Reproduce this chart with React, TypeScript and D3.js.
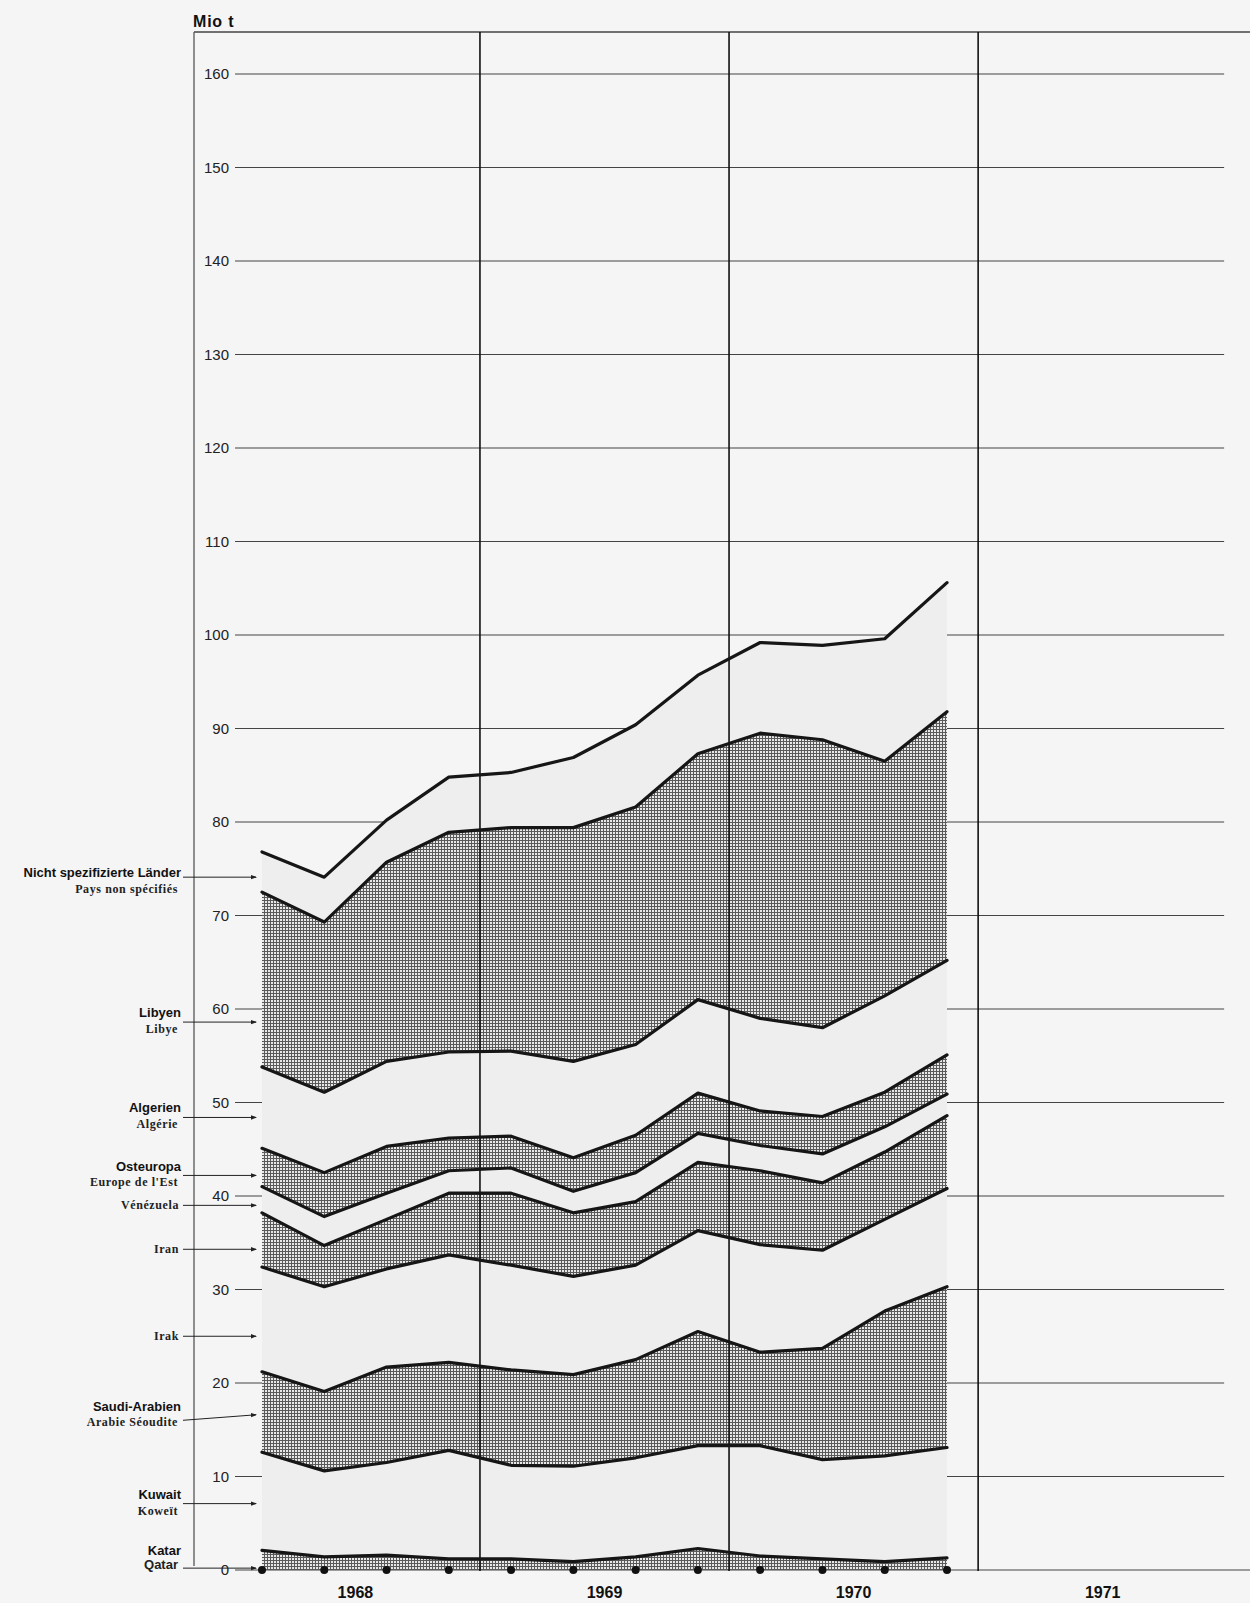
import React from 'react';
import * as d3 from 'd3';

// ---------- data (Mio t, quarterly 1968–1970) ----------
const quarters = [
  '1968-I', '1968-II', '1968-III', '1968-IV',
  '1969-I', '1969-II', '1969-III', '1969-IV',
  '1970-I', '1970-II', '1970-III', '1970-IV',
];
const years = ['1968', '1969', '1970', '1971'];
const yTicks = [0, 10, 20, 30, 40, 50, 60, 70, 80, 90, 100, 110, 120, 130, 140, 150, 160];

const katar = [2.1, 1.4, 1.6, 1.2, 1.2, 0.9, 1.4, 2.3, 1.5, 1.2, 0.9, 1.3];
const kuwait = [10.5, 9.2, 9.9, 11.6, 10.0, 10.2, 10.6, 11.0, 11.8, 10.6, 11.3, 11.8];
const saudiArabien = [8.6, 8.5, 10.2, 9.4, 10.2, 9.8, 10.5, 12.2, 10.0, 11.9, 15.5, 17.2];
const irak = [11.2, 11.2, 10.5, 11.5, 11.2, 10.5, 10.1, 10.8, 11.5, 10.5, 9.8, 10.5];
const iran = [5.8, 4.4, 5.3, 6.6, 7.7, 6.8, 6.8, 7.3, 7.9, 7.2, 7.2, 7.8];
const venezuela = [2.8, 3.1, 2.8, 2.4, 2.7, 2.3, 3.1, 3.1, 2.7, 3.1, 2.7, 2.3];
const osteuropa = [4.1, 4.7, 5.0, 3.5, 3.4, 3.6, 4.0, 4.3, 3.7, 4.0, 3.7, 4.2];
const algerien = [8.7, 8.6, 9.1, 9.2, 9.1, 10.3, 9.7, 10.0, 9.9, 9.5, 10.3, 10.1];
const libyen = [18.7, 18.2, 21.3, 23.5, 23.9, 25.0, 25.4, 26.3, 30.5, 30.8, 25.1, 26.6];
const nichtSpezifiziert = [4.3, 4.8, 4.5, 5.9, 5.9, 7.5, 8.8, 8.4, 9.7, 10.1, 13.1, 13.8];

const seriesKeys = [
  'Katar', 'Kuwait', 'Saudi-Arabien', 'Irak', 'Iran',
  'Venezuela', 'Osteuropa', 'Algerien', 'Libyen', 'Nicht spezifizierte Länder',
];
const seriesValues = [
  katar, kuwait, saudiArabien, irak, iran,
  venezuela, osteuropa, algerien, libyen, nichtSpezifiziert,
];
const labelDe = [
  'Katar', 'Kuwait', 'Saudi-Arabien', '', '',
  '', 'Osteuropa', 'Algerien', 'Libyen', 'Nicht spezifizierte Länder',
];
const labelFr = [
  'Qatar', 'Koweït', 'Arabie Séoudite', 'Irak', 'Iran',
  'Vénézuela', "Europe de l'Est", 'Algérie', 'Libye', 'Pays non spécifiés',
];

// ---------- layout / style ----------
const W = 1250;
const H = 1603;
const hatched = [true, false, true, false, true, false, true, false, true, false];
// arrow anchor (in Mio t), offsets of text lines in px
const arrowAt = [0.2, 7.1, 16.6, 25.0, 34.3, 39.0, 42.2, 48.4, 58.6, 74.1];
const arrowStartShift = [0, 0, 5.5, 0, 0, 0, 0, 0, 0, 0];
const line1Off = [-13, -5, -4, 0, 0, 0, -4, -5, -5, 0];
const line2Off = [1, 11, 11, 4, 4, 4, 11, 11, 11, 16];

const x = d3.scaleLinear().domain([0, 11]).range([262, 947]);
const y = d3.scaleLinear().domain([0, 160]).range([1570, 74]);

const rows = quarters.map((q, i) => {
  const r: any = { q };
  seriesKeys.forEach((k, j) => (r[k] = seriesValues[j][i]));
  return r;
});
const stacked = d3.stack<any>().keys(seriesKeys)(rows);

const area = d3
  .area<any>()
  .x((_d, i) => x(i))
  .y0((d) => y(d[0]))
  .y1((d) => y(d[1]));
const topLine = d3
  .line<any>()
  .x((_d, i) => x(i))
  .y((d) => y(d[1]));

const sans = 'Liberation Sans, Arial, sans-serif';
const serif = 'Liberation Serif, Times New Roman, serif';
const bg = '#f5f5f5';

export default function App() {
  const gridRight = x(15.45);
  return (
    <svg
      width={W}
      height={H}
      viewBox={`0 0 ${W} ${H}`}
      style={{ position: 'absolute', left: 0, top: 0, display: 'block' }}
    >
      <defs>
        <pattern id="hatch" width={3} height={3} patternUnits="userSpaceOnUse">
          <rect width={3} height={3} fill="#e8e8e8" />
          <path d="M0 0.5 H3 M0.5 0 V3" stroke="#5a5a5a" strokeWidth={1} />
        </pattern>
        <marker id="arr" markerWidth={6} markerHeight={6} refX={5} refY={3} orient="auto">
          <path d="M0,0.8 L6,3 L0,5.2 z" fill="#222" />
        </marker>
      </defs>
      <rect x={0} y={0} width={W} height={H} fill={bg} />

      {/* frame */}
      <line x1={194} x2={W} y1={32} y2={32} stroke="#444" strokeWidth={1.3} />
      <line x1={194} x2={194} y1={32} y2={1566} stroke="#555" strokeWidth={1.3} />
      <text x={193} y={27} fontFamily={sans} fontWeight="bold" fontSize={16} fill="#111" letterSpacing={0.8}>
        Mio t
      </text>

      {/* horizontal grid and tick labels */}
      {yTicks.map((t) => (
        <g key={t}>
          <line
            x1={235}
            x2={t === 0 ? W : gridRight}
            y1={y(t)}
            y2={y(t)}
            stroke="#444"
            strokeWidth={1.2}
          />
          {t === 0 && <rect x={209} y={y(t) - 8} width={18} height={15} fill={bg} />}
          <text
            x={229}
            y={y(t) + 5}
            textAnchor="end"
            fontFamily={sans}
            fontSize={15}
            fill="#222"
          >
            {t}
          </text>
        </g>
      ))}

      {/* stacked bands */}
      {stacked.map((s, j) => (
        <path
          key={s.key}
          d={area(s) || ''}
          fill={hatched[j] ? 'url(#hatch)' : '#eeeeee'}
          stroke="none"
        />
      ))}

      {/* year dividers */}
      {[1, 2, 3].map((k) => (
        <line
          key={k}
          x1={x(4 * k - 0.5)}
          x2={x(4 * k - 0.5)}
          y1={32}
          y2={1571}
          stroke="#111"
          strokeWidth={1.6}
        />
      ))}

      {/* boundary lines */}
      {stacked.map((s) => (
        <path
          key={'l' + s.key}
          d={topLine(s) || ''}
          fill="none"
          stroke="#161616"
          strokeWidth={3.2}
          strokeLinejoin="round"
          strokeLinecap="round"
        />
      ))}

      {/* dots on zero line */}
      {quarters.map((q, i) => (
        <circle key={q} cx={x(i)} cy={y(0)} r={4} fill="#111" />
      ))}

      {/* year labels */}
      {years.map((yr, k) => (
        <text
          key={yr}
          x={x(4 * k + 1.5)}
          y={1598}
          textAnchor="middle"
          fontFamily={sans}
          fontWeight="bold"
          fontSize={16}
          fill="#111"
        >
          {yr}
        </text>
      ))}

      {/* country labels with arrows */}
      {seriesKeys.map((k, j) => {
        const ay = y(arrowAt[j]);
        const two = labelDe[j] !== '';
        return (
          <g key={'lab' + k}>
            <line
              x1={183}
              x2={256}
              y1={ay + arrowStartShift[j]}
              y2={ay}
              stroke="#222"
              strokeWidth={1}
              markerEnd="url(#arr)"
            />
            {two && (
              <text
                x={181}
                y={ay + line1Off[j]}
                textAnchor="end"
                fontFamily={sans}
                fontWeight="bold"
                fontSize={13}
                fill="#111"
              >
                {labelDe[j]}
              </text>
            )}
            <text
              x={two ? 178 : 179}
              y={ay + line2Off[j]}
              textAnchor="end"
              fontFamily={j === 0 ? sans : serif}
              fontWeight="bold"
              fontSize={j === 0 ? 13 : 12}
              letterSpacing={j === 0 ? 0 : 0.6}
              fill="#222"
            >
              {labelFr[j]}
            </text>
          </g>
        );
      })}
    </svg>
  );
}
